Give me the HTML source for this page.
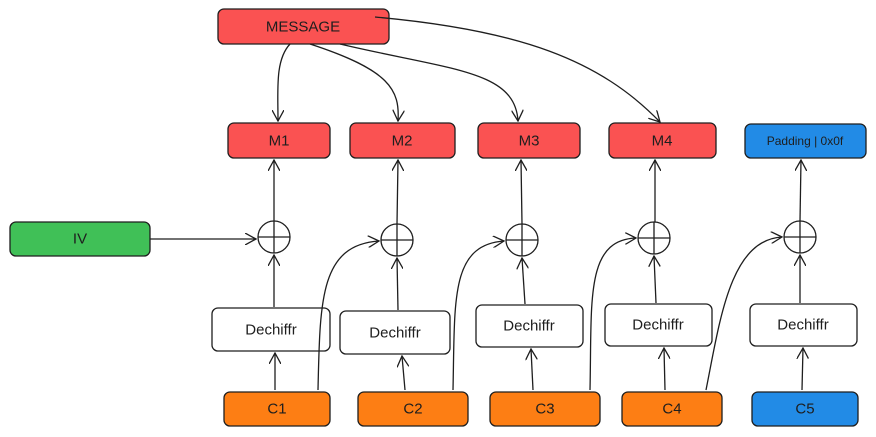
<!DOCTYPE html>
<html><head><meta charset="utf-8"><style>
html,body{margin:0;padding:0;background:#fff;width:876px;height:437px;overflow:hidden}
text{font-family:"Liberation Sans",sans-serif;font-size:15px;fill:#1e1e1e;text-anchor:middle;dominant-baseline:central}
</style></head><body>
<svg width="876" height="437" viewBox="0 0 876 437" xmlns="http://www.w3.org/2000/svg">
<defs><marker id="a" viewBox="0 0 12 12" refX="11" refY="6" markerWidth="12" markerHeight="12" orient="auto" markerUnits="userSpaceOnUse"><path d="M0,0 L11,6 L0,12" fill="none" stroke="#1e1e1e" stroke-width="1.3"/></marker></defs>
<g stroke="#1e1e1e" stroke-width="1.3">
<rect x="218" y="9" width="171" height="35" rx="6" fill="#fa5252"/>
<rect x="228" y="123" width="102" height="35" rx="6" fill="#fa5252"/>
<rect x="350" y="123" width="105" height="35" rx="6" fill="#fa5252"/>
<rect x="478" y="123" width="102" height="35" rx="6" fill="#fa5252"/>
<rect x="609" y="123" width="107" height="35" rx="6" fill="#fa5252"/>
<rect x="745" y="124" width="121" height="34" rx="6" fill="#228be6"/>
<rect x="10" y="222" width="140" height="34" rx="6" fill="#40c057"/>
<rect x="212" y="308" width="118" height="43" rx="6" fill="#fff"/>
<rect x="340" y="311" width="110" height="43" rx="6" fill="#fff"/>
<rect x="476" y="305" width="107" height="42" rx="6" fill="#fff"/>
<rect x="605" y="304" width="107" height="42" rx="6" fill="#fff"/>
<rect x="750" y="304" width="107" height="42" rx="6" fill="#fff"/>
<rect x="224" y="392" width="106" height="34" rx="6" fill="#fd7e14"/>
<rect x="358" y="392" width="110" height="34" rx="6" fill="#fd7e14"/>
<rect x="490" y="392" width="110" height="34" rx="6" fill="#fd7e14"/>
<rect x="622" y="392" width="100" height="34" rx="6" fill="#fd7e14"/>
<rect x="752" y="392" width="106" height="34" rx="6" fill="#228be6"/>
</g>
<g stroke="#1e1e1e" stroke-width="1.3" fill="none">
<circle cx="274" cy="237" r="16"/><path d="M258 237h32M274 221v32"/>
<circle cx="397" cy="240" r="16"/><path d="M381 240h32M397 224v32"/>
<circle cx="522" cy="240" r="16"/><path d="M506 240h32M522 224v32"/>
<circle cx="654" cy="238" r="16"/><path d="M638 238h32M654 222v32"/>
<circle cx="800" cy="237" r="16"/><path d="M784 237h32M800 221v32"/>
<g marker-end="url(#a)">
<path d="M290 44 C275 60,278 90,278 121"/>
<path d="M310 44 C390 70,400 90,398 121"/>
<path d="M340 44 C450 70,515 70,518 121"/>
<path d="M375 17 C520 30,600 60,660 122"/>
<path d="M150 239 L256 239"/>
<path d="M275 390 L275 353"/><path d="M274 307 L274 255"/><path d="M274 221 L274 160"/>
<path d="M405 390 L402 356"/><path d="M398 310 L397 258"/><path d="M397 224 L398 160"/>
<path d="M533 390 L531 349"/><path d="M525 304 L522 258"/><path d="M522 224 L521 160"/>
<path d="M665 390 L664 348"/><path d="M656 303 L654 256"/><path d="M655 222 L655 160"/>
<path d="M802 390 L803 348"/><path d="M800 303 L800 255"/><path d="M800 221 L801 160"/>
<path d="M318 390 C320 300,320 245,379 241"/>
<path d="M453 390 C455 300,450 245,504 241"/>
<path d="M590 390 C592 300,585 240,636 238"/>
<path d="M706 390 C720 320,730 240,782 237"/>
</g></g>
<text x="303" y="27">MESSAGE</text>
<text x="279" y="141">M1</text><text x="402" y="141">M2</text><text x="529" y="141">M3</text><text x="662" y="141">M4</text>
<text x="805" y="141" style="font-size:12px">Padding | 0x0f</text>
<text x="80" y="239">IV</text>
<text x="271" y="330">Dechiffr</text><text x="395" y="333">Dechiffr</text><text x="529" y="326">Dechiffr</text><text x="658" y="325">Dechiffr</text><text x="803" y="325">Dechiffr</text>
<text x="277" y="409">C1</text><text x="413" y="409">C2</text><text x="545" y="409">C3</text><text x="672" y="409">C4</text><text x="805" y="409">C5</text>
</svg>
</body></html>
